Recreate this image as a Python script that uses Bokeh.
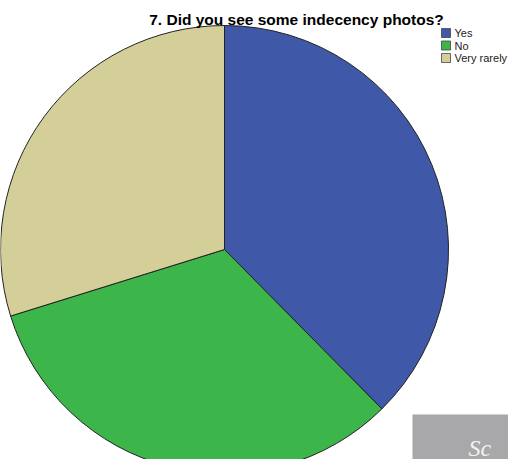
from math import pi
from bokeh.plotting import figure
from bokeh.models import Range1d, ColumnDataSource
from bokeh.core.properties import value
from bokeh.embed import file_html
from bokeh.resources import INLINE

title_text = "7. Did you see some indecency photos?"
categories = ["Yes", "No", "Very rarely"]
percents = [37.6, 32.6, 29.8]
colors = ["#3F58A8", "#3CB54B", "#D4CE98"]

W, H = 508, 459
p = figure(width=W, height=H, output_backend="svg", toolbar_location=None,
           x_range=Range1d(0, W), y_range=Range1d(0, H), min_border=0)
p.axis.visible = False
p.grid.visible = False
p.outline_line_color = None
p.background_fill_color = "white"
p.border_fill_color = "white"

# pie (screen px -> data: x-8, 467-y)
cx, cy, r = 224, 210, 224
total = sum(percents)
starts, ends = [], []
a = pi / 2
for v in percents:
    e = a - v / total * 2 * pi
    starts.append(e)
    ends.append(a)
    a = e
src = ColumnDataSource(dict(cat=categories, start=starts, end=ends, color=colors))
p.wedge(x=cx, y=cy, radius=r, start_angle="start", end_angle="end",
        fill_color="color", line_color="#222222", line_width=1, source=src)

# title
p.text(x=[296], y=[440], text=[title_text], text_font=value("Liberation Sans"),
       text_font_style="bold", text_font_size="15.5px", text_align="center",
       text_baseline="alphabetic", text_color="black")

# legend
lx, ly0, step = 441, 426.5, 12.5
ys = [ly0 - i * step for i in range(len(categories))]
p.rect(x=[lx + 4.5] * len(categories), y=ys, width=9, height=9, fill_color=colors,
       line_color="#444444", line_width=0.8)
p.text(x=[lx + 13] * len(categories), y=ys, text=categories,
       text_font=value("Liberation Sans"), text_font_size="11px",
       text_baseline="middle", text_align="left", text_color="#222222")

# gray box bottom right
p.quad(left=[412], right=[W], bottom=[0], top=[45], fill_color="#A8A8AA", line_color=None)
p.text(x=[468], y=[12], text=["Sc"], text_font=value("Liberation Serif"),
       text_font_style="italic", text_font_size="24px", text_color="#F2F2F2",
       text_baseline="alphabetic", text_align="left")

open("out.html", "w").write(file_html(p, INLINE))
